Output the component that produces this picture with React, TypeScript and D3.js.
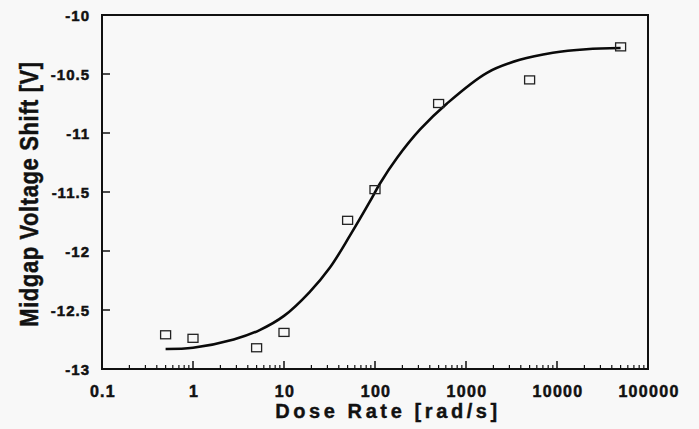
import React, { useEffect, useRef } from "react";
import * as d3 from "d3";

// measured points (dose rate, midgap shift)
const doseRates = [0.5, 1, 5, 10, 50, 100, 500, 5000, 50000];
const shifts = [-12.71, -12.74, -12.82, -12.69, -11.74, -11.48, -10.75, -10.55, -10.27];

// fitted curve
const fitX = [0.5, 1, 2.8, 5.4, 10, 19, 32, 53, 88, 113, 175, 313, 618, 1700, 3900, 9000, 21000, 50000];
const fitY = [-12.83, -12.82, -12.75, -12.67, -12.55, -12.35, -12.14, -11.87, -11.58, -11.43, -11.21, -10.97, -10.75, -10.49, -10.38, -10.32, -10.29, -10.28];

const xTicks = [0.1, 1, 10, 100, 1000, 10000, 100000];
const xTickLabels = ["0.1", "1", "10", "100", "1000", "10000", "100000"];
const yTicks = [-10, -10.5, -11, -11.5, -12, -12.5, -13];
const yTickLabels = ["-10", "-10.5", "-11", "-11.5", "-12", "-12.5", "-13"];

const W = 699;
const H = 429;
const left = 102,
  right = 648,
  top = 15,
  bottom = 369;

const App = () => {
  const ref = useRef<SVGSVGElement>(null);

  useEffect(() => {
    const svg = d3.select(ref.current);
    svg.selectAll("*").remove();

    const x = d3.scaleLog().domain([0.1, 100000]).range([left, right]);
    const y = d3.scaleLinear().domain([-13, -10]).range([bottom, top]);
    const font = "'Liberation Sans', Arial, sans-serif";

    svg.append("rect").attr("width", W).attr("height", H).attr("fill", "#f8f8f8");

    // frame
    svg
      .append("rect")
      .attr("x", left)
      .attr("y", top)
      .attr("width", right - left)
      .attr("height", bottom - top)
      .attr("fill", "none")
      .attr("stroke", "#111")
      .attr("stroke-width", 2);

    // y ticks (inside)
    svg
      .selectAll(".yt")
      .data(yTicks)
      .enter()
      .append("line")
      .attr("x1", left)
      .attr("x2", left + 8)
      .attr("y1", (d) => y(d))
      .attr("y2", (d) => y(d))
      .attr("stroke", "#111")
      .attr("stroke-width", 1.5);

    svg
      .selectAll(".yl")
      .data(yTicks)
      .enter()
      .append("text")
      .attr("x", 90)
      .attr("y", (d) => y(d) + 5.5)
      .attr("text-anchor", "end")
      .attr("font-family", font)
      .attr("font-weight", "bold")
      .attr("font-size", 15)
      .attr("letter-spacing", 1)
      .attr("fill", "#111")
      .attr("stroke", "#111")
      .attr("stroke-width", 0.5)
      .text((d, i) => yTickLabels[i]);

    // x ticks: major + minor, pointing up
    const minor: number[] = [];
    for (let e = -1; e < 5; e++) {
      for (let m = 2; m <= 9; m++) minor.push(m * Math.pow(10, e));
    }
    svg
      .selectAll(".xm")
      .data(minor)
      .enter()
      .append("line")
      .attr("x1", (d) => x(d))
      .attr("x2", (d) => x(d))
      .attr("y1", bottom)
      .attr("y2", bottom - 4)
      .attr("stroke", "#111")
      .attr("stroke-width", 1.2);
    svg
      .selectAll(".xt")
      .data(xTicks)
      .enter()
      .append("line")
      .attr("x1", (d) => x(d))
      .attr("x2", (d) => x(d))
      .attr("y1", bottom)
      .attr("y2", bottom - 8)
      .attr("stroke", "#111")
      .attr("stroke-width", 1.5);

    svg
      .selectAll(".xl")
      .data(xTicks)
      .enter()
      .append("text")
      .attr("x", (d) => x(d) + 1)
      .attr("y", 397)
      .attr("text-anchor", "middle")
      .attr("font-family", font)
      .attr("font-weight", "bold")
      .attr("font-size", 16)
      .attr("letter-spacing", 1.3)
      .attr("fill", "#111")
      .attr("stroke", "#111")
      .attr("stroke-width", 0.5)
      .text((d, i) => xTickLabels[i]);

    // fitted curve
    const line = d3
      .line<number>()
      .x((d, i) => x(fitX[i]))
      .y((d) => y(d))
      .curve(d3.curveCatmullRom.alpha(0.5));
    svg
      .append("path")
      .attr("d", line(fitY))
      .attr("fill", "none")
      .attr("stroke", "#0a0a0a")
      .attr("stroke-width", 2.6);

    // data squares
    svg
      .selectAll(".pt")
      .data(shifts)
      .enter()
      .append("rect")
      .attr("x", (d, i) => x(doseRates[i]) - 5)
      .attr("y", (d) => y(d) - 4)
      .attr("width", 10)
      .attr("height", 8)
      .attr("fill", "none")
      .attr("stroke", "#222")
      .attr("stroke-width", 1.3);

    // axis titles
    svg
      .append("text")
      .attr("x", 388)
      .attr("y", 418)
      .attr("text-anchor", "middle")
      .attr("font-family", font)
      .attr("font-weight", "bold")
      .attr("font-size", 20)
      .attr("letter-spacing", 3.6)
      .attr("fill", "#111")
      .attr("stroke", "#111")
      .attr("stroke-width", 0.4)
      .text("Dose Rate [rad/s]");

    svg
      .append("text")
      .attr("transform", "translate(38,194) rotate(-90) scale(1,1.2)")
      .attr("text-anchor", "middle")
      .attr("font-family", font)
      .attr("font-weight", "bold")
      .attr("font-size", 22)
      .attr("letter-spacing", 0.6)
      .attr("fill", "#111")
      .attr("stroke", "#111")
      .attr("stroke-width", 0.4)
      .text("Midgap Voltage Shift [V]");
  }, []);

  return (
    <svg
      ref={ref}
      width={W}
      height={H}
      style={{ position: "absolute", left: 0, top: 0 }}
    ></svg>
  );
};

export default App;
